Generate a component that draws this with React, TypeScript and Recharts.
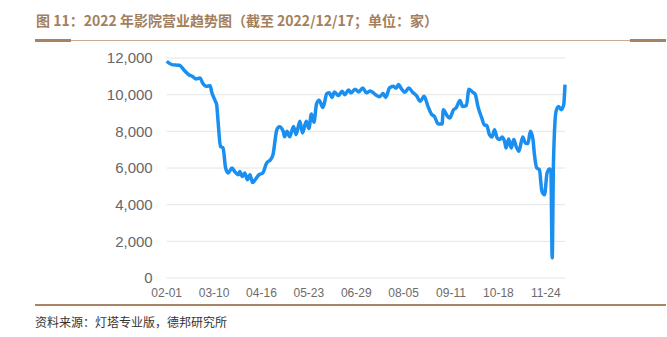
import { LineChart, Line, XAxis, YAxis, CartesianGrid } from 'recharts'

// day offset from 02-01 (axis positions) and number of open cinemas
const dayIndex = [
  0, 4, 10, 14, 17, 20, 23, 26, 28, 31, 34, 35, 38, 39, 40, 42, 44, 46, 48, 51,
  53, 56, 57, 59, 61, 63, 65, 67, 70, 72, 75, 78, 81, 83, 86, 88, 91, 92, 94, 96,
  99, 101, 104, 106, 109, 111, 113, 115, 117, 119, 122, 125, 127, 129, 131, 134, 137, 139, 142, 144,
  147, 150, 153, 156, 159, 163, 166, 169, 171, 174, 177, 179, 181, 183, 186, 189, 192, 195, 198, 201,
  204, 207, 209, 212, 215, 216, 219, 221, 224, 226, 229, 231, 234, 236, 239, 241, 243, 246, 248, 250,
  252, 254, 256, 258, 260, 262, 264, 265, 267, 269, 271, 273, 275, 278, 280, 282, 284, 286, 287, 289,
  291, 293, 295, 297, 299, 300, 301, 302, 304, 306, 308, 310, 311,
]
const cinemas = [
  11820, 11640, 11600, 11300, 11100, 11000, 10860, 10910, 10640, 10460, 10490, 10180, 9640, 9460, 8640, 7180, 7090, 6000, 5730, 6000,
  5810, 5630, 5810, 5540, 5730, 5360, 5630, 5210, 5450, 5630, 5730, 6270, 6450, 6730, 8090, 8250, 8000, 7700, 8000, 7700,
  8270, 7820, 8550, 7910, 8550, 8150, 8950, 8500, 9500, 9700, 9300, 10050, 10100, 9850, 10150, 9950, 10180, 10000, 10250, 10100,
  10300, 10150, 10370, 10100, 10200, 10000, 9880, 10060, 9850, 10370, 10460, 10350, 10550, 10350, 10130, 10370, 10130, 9950, 9640, 9910,
  9360, 8910, 8820, 8400, 8400, 9180, 8850, 8730, 9180, 9280, 9680, 9360, 9400, 10300, 10130, 10000, 9360, 8730, 8360, 8310,
  7820, 7690, 8090, 7640, 7550, 7690, 7400, 7090, 7580, 7090, 7550, 7150, 6910, 7690, 7370, 7330, 8000, 7550, 6820, 6000,
  5910, 4720, 4540, 5730, 5950, 5810, 1090, 6300, 9090, 9360, 9180, 9460, 10550,
]
const tickDays = [0, 37, 74, 111, 148, 185, 222, 259, 296]
const tickLabels = ['02-01', '03-10', '04-16', '05-23', '06-29', '08-05', '09-11', '10-18', '11-24']
const yTicks = [0, 2000, 4000, 6000, 8000, 10000, 12000]

const chartData = dayIndex.map((d, i) => ({ day: d, count: cinemas[i] }))

const brown = '#a47f5e'

export default function App() {
  return (
    <div
      style={{
        position: 'relative',
        width: 667,
        height: 337,
        background: '#fff',
        fontFamily: '"Noto Sans CJK SC", "Liberation Sans", sans-serif',
        overflow: 'hidden',
      }}
    >
      <style>{'body{margin:0}'}</style>
      <div
        style={{
          position: 'absolute',
          left: 36,
          top: 10,
          fontSize: 14,
          fontWeight: 700,
          color: brown,
          whiteSpace: 'nowrap',
          lineHeight: '20px',
        }}
      >
        图 11：2022 年影院营业趋势图（截至 2022/12/17；单位：家）
      </div>
      {/* title rule with heavier end caps */}
      <div style={{ position: 'absolute', left: 35, top: 40, width: 631, height: 1, background: '#c8ad94' }} />
      <div style={{ position: 'absolute', left: 35, top: 39, width: 36, height: 3, background: '#a58264' }} />
      <div style={{ position: 'absolute', left: 630, top: 39, width: 36, height: 3, background: '#a58264' }} />

      <div style={{ position: 'absolute', left: 0, top: 0 }}>
        <LineChart
          width={667}
          height={310}
          data={chartData}
          margin={{ top: 58, right: 102, bottom: 0, left: 0 }}
        >
          <CartesianGrid vertical={false} stroke="#e4e4e4" strokeWidth={1} />
          <XAxis
            dataKey="day"
            type="number"
            domain={[0, 311]}
            ticks={tickDays}
            interval={0}
            tickFormatter={(d: number) => tickLabels[tickDays.indexOf(d)] ?? ''}
            axisLine={false}
            tickLine={false}
            tickSize={6}
            tickMargin={4}
            height={32}
            tick={{ fontSize: 12, fill: '#6b6b6b', fontFamily: '"Liberation Sans", sans-serif' }}
          />
          <YAxis
            domain={[0, 12000]}
            ticks={yTicks}
            interval={0}
            tickFormatter={(v: number) => v.toLocaleString('en-US')}
            axisLine={false}
            tickLine={false}
            tickSize={6}
            tickMargin={8}
            width={166.7}
            tick={{ fontSize: 15, fill: '#666666', fontFamily: '"Liberation Sans", sans-serif' }}
          />
          <Line
            type="monotone"
            dataKey="count"
            stroke="#1b8ff0"
            strokeWidth={3.5}
            dot={false}
            isAnimationActive={false}
          />
        </LineChart>
      </div>

      <div style={{ position: 'absolute', left: 35, top: 304, width: 631, height: 2, background: '#a98566' }} />
      <div
        style={{
          position: 'absolute',
          left: 35,
          top: 313,
          fontSize: 12,
          color: '#333',
          whiteSpace: 'nowrap',
          lineHeight: '18px',
        }}
      >
        资料来源：灯塔专业版，德邦研究所
      </div>
    </div>
  )
}
